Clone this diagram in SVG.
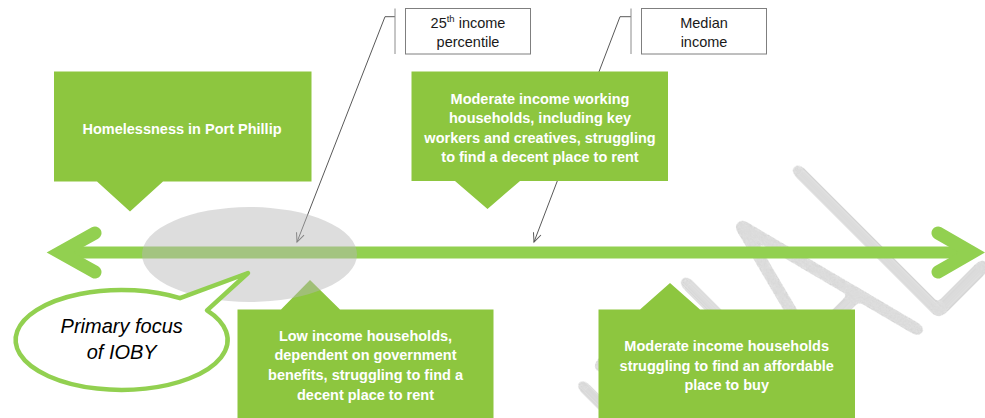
<svg xmlns="http://www.w3.org/2000/svg" width="985" height="418" viewBox="0 0 985 418">
  <defs>
    <style>
      .box { fill: #8DC63F; }
      .box-text { font-family: "Liberation Sans", Arial, sans-serif; font-weight: bold; font-size: 14.5px; fill: #ffffff; text-anchor: middle; }
      .axis { stroke: #92D050; stroke-width: 12; fill: none; }
      .head { stroke: #92D050; stroke-width: 13; fill: none; stroke-linecap: round; stroke-linejoin: miter; stroke-miterlimit: 10; }
      .leader { stroke: #595959; stroke-width: 1; fill: none; }
      .label-box { fill: #ffffff; stroke: #7f7f7f; stroke-width: 1; }
      .accent { stroke: #8c8c8c; stroke-width: 1; }
      .label-text { font-family: "Liberation Sans", Arial, sans-serif; font-size: 14.5px; fill: #1a1a1a; text-anchor: middle; }
      .watermark { font-family: Lato, "Open Sans", sans-serif; font-weight: 100; font-size: 290px; fill: #dcdcdc; text-anchor: end; }
      .focus { fill: #b6b6b6; fill-opacity: 0.47; }
      .bubble { fill: #ffffff; stroke: #92D050; stroke-width: 4.5; stroke-linejoin: round; }
      .bubble-text { font-family: "Liberation Sans", Arial, sans-serif; font-style: italic; font-size: 20px; fill: #000000; text-anchor: middle; }
    </style>
    <!-- thickens the hairline watermark letters into even, round-ended strokes -->
    <filter id="wm-weight" x="-5%" y="-10%" width="110%" height="120%" color-interpolation-filters="sRGB">
      <feGaussianBlur stdDeviation="3.8"/>
      <feComponentTransfer>
        <feFuncA type="linear" slope="30" intercept="-1.5"/>
      </feComponentTransfer>
    </filter>
    <marker id="open-arrow" markerUnits="userSpaceOnUse" viewBox="0 0 12 10" markerWidth="12" markerHeight="10" refX="10" refY="5" orient="auto">
      <path d="M1,1 L10,5 L1,9" fill="none" stroke="#595959" stroke-width="1"/>
    </marker>
  </defs>

  <rect width="985" height="418" fill="#ffffff"/>

  <!-- diagonal watermark behind the diagram -->
  <g id="watermark" transform="rotate(-45)" filter="url(#wm-weight)">
    <text class="watermark" transform="scale(0.62,1)" x="825" y="885">CONFIDENTIAL</text>
  </g>

  <!-- income axis with arrowheads at both ends -->
  <g id="axis">
    <path class="axis" d="M60,252.5 H972"/>
    <polyline class="head" points="95,233 60,252.5 95,272"/>
    <polyline class="head" points="938,233 972,252.5 938,272"/>
  </g>

  <!-- leader lines from the percentile labels to the axis -->
  <g id="connectors">
    <polyline class="leader" points="395,16.7 385,16.7 297,242" marker-end="url(#open-arrow)"/>
    <polyline class="leader" points="631,16.7 620,16.7 534,242" marker-end="url(#open-arrow)"/>
  </g>

  <g id="label-25th">
    <line class="accent" x1="395" y1="8.5" x2="395" y2="54"/>
    <rect class="label-box" x="405.5" y="8.5" width="125" height="45.5"/>
    <text class="label-text" x="468" y="27.5">25<tspan dy="-5.5" font-size="9.5">th</tspan><tspan dy="5.5"> income</tspan></text>
    <text class="label-text" x="468" y="47">percentile</text>
  </g>

  <g id="label-median">
    <line class="accent" x1="631" y1="8.5" x2="631" y2="54"/>
    <rect class="label-box" x="641.5" y="8.5" width="125" height="45.5"/>
    <text class="label-text" x="704" y="27.5">Median</text>
    <text class="label-text" x="704" y="47">income</text>
  </g>

  <g id="homelessness">
    <path class="box" d="M54,71.5 H311.5 V181.5 H163 L130,211.5 L97,181.5 H54 Z"/>
    <text class="box-text" x="182" y="134">Homelessness in Port Phillip</text>
  </g>

  <g id="moderate-renters">
    <path class="box" d="M411.5,71.5 H668 V181 H520 L487.5,209 L455,181 H411.5 Z"/>
    <text class="box-text" x="540" y="103.5">Moderate income working</text>
    <text class="box-text" x="540" y="123">households, including key</text>
    <text class="box-text" x="540" y="142.7">workers and creatives, struggling</text>
    <text class="box-text" x="540" y="162.3">to find a decent place to rent</text>
  </g>

  <g id="low-income">
    <path class="box" d="M237.5,309.5 H281 L310,280 L340,309.5 H493.5 V420 H237.5 Z"/>
    <text class="box-text" x="365.5" y="340.5">Low income households,</text>
    <text class="box-text" x="365.5" y="360.2">dependent on government</text>
    <text class="box-text" x="365.5" y="380">benefits, struggling to find a</text>
    <text class="box-text" x="365.5" y="399.8">decent place to rent</text>
  </g>

  <g id="moderate-buyers">
    <path class="box" d="M598.5,309.5 H640 L670,283 L700,309.5 H855 V420 H598.5 Z"/>
    <text class="box-text" x="726.7" y="350.7">Moderate income households</text>
    <text class="box-text" x="726.7" y="370.5">struggling to find an affordable</text>
    <text class="box-text" x="726.7" y="390.3">place to buy</text>
  </g>

  <!-- shaded band marking the lower end of the income range -->
  <g id="focus-band">
    <ellipse class="focus" cx="249.5" cy="254.5" rx="107.5" ry="47.5"/>
  </g>

  <g id="primary-focus">
    <path class="bubble" d="M180,298.2 L248,273 L207,310.3 A106,50 0 1,1 180,298.2 Z"/>
    <text class="bubble-text" x="121.7" y="332.5">Primary focus</text>
    <text class="bubble-text" x="121.7" y="359">of IOBY</text>
  </g>
</svg>
